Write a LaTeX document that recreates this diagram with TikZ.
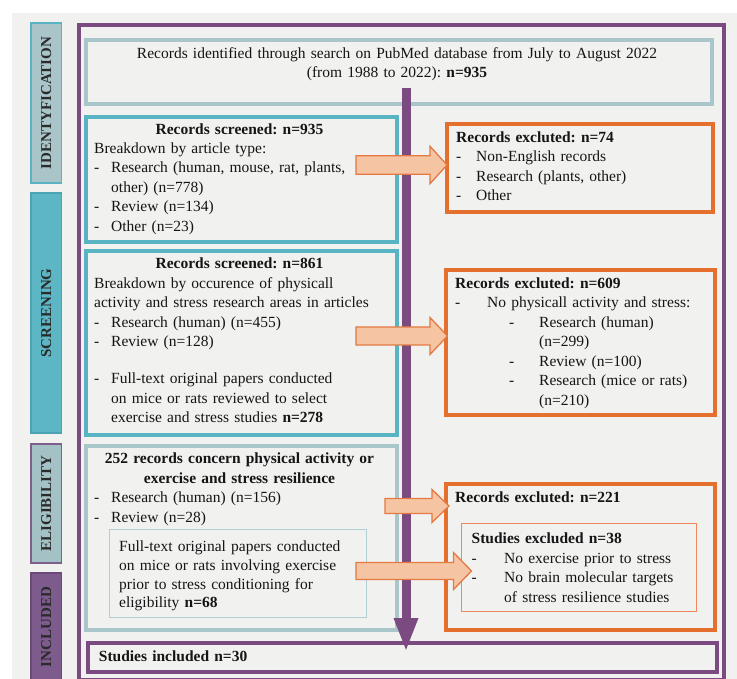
\documentclass[tikz,border=0pt]{standalone}
\usepackage{fontspec}
\setmainfont{Liberation Serif}
\usetikzlibrary{arrows.meta}
\frenchspacing
\definecolor{bgc}{HTML}{F1F1F0}
\definecolor{purp}{HTML}{7A4A80}
\definecolor{tealc}{HTML}{58B4C3}
\definecolor{greyteal}{HTML}{A9C6CB}
\definecolor{orng}{HTML}{E56F2F}
\definecolor{peach}{HTML}{F5C4A2}
\definecolor{arrline}{HTML}{E47A42}
\definecolor{thinor}{HTML}{F08A5C}
\definecolor{thintl}{HTML}{B0CFD4}
\definecolor{txtc}{HTML}{151515}
\definecolor{labtxt}{HTML}{2A2A2A}
\definecolor{idfill}{HTML}{A9C5C9}
\definecolor{scfill}{HTML}{5DB6C4}
\definecolor{scline}{HTML}{4AA4B3}
\definecolor{elfill}{HTML}{A4C2C6}
\definecolor{elline}{HTML}{7D5E8C}
\definecolor{infill}{HTML}{7D5C8D}
\definecolor{inline}{HTML}{6A4879}
\newcommand\dashi[1]{\makebox[#1][l]{-}}
\newcommand\barrowR[6]{% x0, xh, tip, cy, shaft, head
  \draw[blk] (#1,{#4-#5/2}) -- (#2,{#4-#5/2}) -- (#2,{#4-#6/2}) -- (#3,#4)
    -- (#2,{#4+#6/2}) -- (#2,{#4+#5/2}) -- (#1,{#4+#5/2}) -- cycle;}
\begin{document}
\begin{tikzpicture}[x=1pt,y=-1pt,
  box/.style={draw, line width=4pt, inner sep=0pt, anchor=north west, fill=bgc},
  thinbox/.style={draw, line width=1pt, inner sep=0pt, anchor=north west, fill=bgc},
  lab/.style={line width=1.8pt, inner sep=0pt, rotate=90, text=labtxt,
    font=\fontsize{15}{15}\selectfont\bfseries, minimum height=30.5pt},
  txt/.style={inner sep=0pt, text width=#1, align=left, anchor=base west, text=txtc,
    font=\fontsize{15.5}{19.5}\selectfont},
  ctxt/.style={inner sep=0pt, text width=#1, align=center, anchor=base, text=txtc,
    font=\fontsize{15.5}{19.5}\selectfont},
  blk/.style={fill=peach, draw=arrline, line width=1.3pt, line join=miter}
]
\useasboundingbox (0,0) rectangle (737,679);
\fill[white] (0,0) rectangle (737,679);
\fill[bgc] (12,13) rectangle (737,679);

% side labels
\node[lab, fill=idfill, draw=tealc, minimum width=160pt] (lid) at (46.3,103) {IDENTYFICATION};
\node[lab, fill=scfill, draw=scline, minimum width=240pt] (lsc) at (46.3,313) {SCREENING};
\node[lab, fill=elfill, draw=elline, minimum width=119pt] (lel) at (46.3,503.5) {ELIGIBILITY};
\node[lab, fill=infill, draw=inline, minimum width=108pt] (lin) at (46.3,627) {INCLUDED};

% outer frame
\node[box, draw=purp, fill=none, minimum width=645pt, minimum height=655pt] (frame) at (77,23) {};

% boxes
\node[box, draw=greyteal, minimum width=626pt, minimum height=64pt] (ident) at (84,38) {};
\node[box, draw=tealc, minimum width=311pt, minimum height=125pt] (scr1) at (84,115) {};
\node[box, draw=orng, minimum width=266pt, minimum height=88pt] (exc1) at (445,122) {};
\node[box, draw=tealc, minimum width=311pt, minimum height=184pt] (scr2) at (84,249) {};
\node[box, draw=orng, minimum width=269pt, minimum height=145pt] (exc2) at (444,268) {};
\node[box, draw=greyteal, minimum width=311pt, minimum height=184pt] (elig) at (84,444) {};
\node[thinbox, draw=thintl, minimum width=257pt, minimum height=88pt] (eligin) at (109,529) {};
\node[box, draw=orng, minimum width=269pt, minimum height=146pt] (exc3) at (444,482) {};
\node[thinbox, draw=thinor, minimum width=235pt, minimum height=88pt] (exc3in) at (461,523) {};
\node[box, draw=purp, minimum width=629pt, minimum height=29pt] (incl) at (86,641) {};

% texts
\node[ctxt=620pt] (tident) at (397,58.5) {Records identified through search on PubMed database from July to August 2022\\(from 1988 to 2022): \textbf{n=935}};

\node[ctxt=300pt] (tscr1h) at (239.5,134.5) {\textbf{Records screened: n=935}};
\node[txt=300pt] (tscr1) at (94,153.5) {Breakdown by article type:\\
\dashi{17pt}Research (human, mouse, rat, plants,\\
\hspace*{17pt}other) (n=778)\\
\dashi{17pt}Review (n=134)\\
\dashi{17pt}Other (n=23)};

\node[txt=255pt] (texc1) at (456,142.5) {\textbf{Records excluted: n=74}\\
\dashi{20pt}Non-English records\\
\dashi{20pt}Research (plants, other)\\
\dashi{20pt}Other};

\node[ctxt=300pt] (tscr2h) at (239.5,268.5) {\textbf{Records screened: n=861}};
\node[txt=300pt] (tscr2) at (94,288.5) {Breakdown by occurence of physicall\\
activity and stress research areas in articles\\
\dashi{17pt}Research (human) (n=455)\\
\dashi{17pt}Review (n=128)\\[17.5pt]
\dashi{17pt}Full-text original papers conducted\\
\hspace*{17pt}on mice or rats reviewed to select\\
\hspace*{17pt}exercise and stress studies \textbf{n=278}};

\node[txt=255pt] (texc2) at (455,288.5) {\textbf{Records excluted: n=609}\\
\dashi{32pt}No physicall activity and stress:\\
\hspace*{54pt}\dashi{30pt}Research (human)\\
\hspace*{84pt}(n=299)\\
\hspace*{54pt}\dashi{30pt}Review (n=100)\\
\hspace*{54pt}\dashi{30pt}Research (mice or rats)\\
\hspace*{84pt}(n=210)};

\node[ctxt=300pt] (teligh) at (239.5,463.5) {\textbf{252 records concern physical activity or}\\\textbf{exercise and stress resilience}};
\node[txt=300pt] (telig) at (94,502.5) {\dashi{17pt}Research (human) (n=156)\\
\dashi{17pt}Review (n=28)};
\node[txt=250pt, font=\fontsize{15.5}{18.8}\selectfont] (teligin) at (119,551.5) {Full-text original papers conducted\\
on mice or rats involving exercise\\
prior to stress conditioning for\\
eligibility \textbf{n=68}};

\node[txt=255pt] (texc3) at (455,502.5) {\textbf{Records excluted: n=221}};
\node[txt=230pt] (texc3in) at (471.5,543.5) {\textbf{Studies excluded n=38}\\
\dashi{32.5pt}No exercise prior to stress\\
\dashi{32.5pt}No brain molecular targets\\
\hspace*{32.5pt}of stress resilience studies};

\node[txt=400pt] (tincl) at (98.7,661.5) {\textbf{Studies included n=30}};

% main vertical arrow
\coordinate (vtop) at (406,88);
\coordinate (vend) at (406,652);
\draw[purp, line width=9pt, -{Triangle[width=22pt,length=34pt]}] (vtop) -- (vend);

% block arrows
\barrowR{356}{430}{447}{165}{18.5}{37.5}
\barrowR{356}{430}{447.5}{336}{18}{37}
\barrowR{385}{432}{449}{506}{15}{33}
\barrowR{356}{453.5}{471.5}{571}{17}{37}
\end{tikzpicture}
\end{document}
